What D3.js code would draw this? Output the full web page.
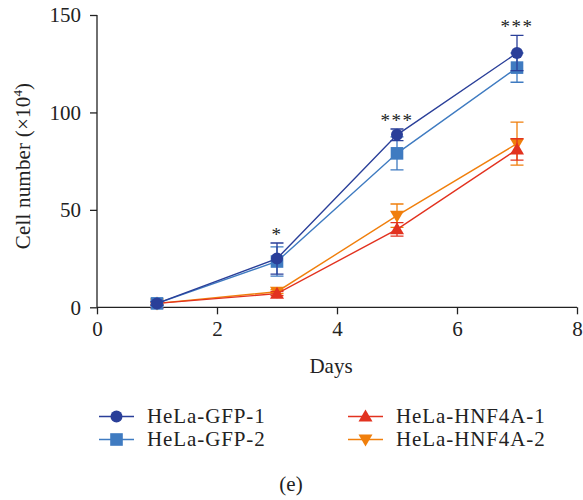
<!DOCTYPE html>
<html><head><meta charset="utf-8">
<script src="https://cdn.jsdelivr.net/npm/d3@7"></script>
<style>body{margin:0;background:#fff}svg text{font-family:"Liberation Serif","DejaVu Serif",serif;fill:#222}</style>
</head><body><svg id="c" width="583" height="500"></svg>
<script>
const days = [1, 3, 5, 7];
const seriesNames = ["HeLa-GFP-1", "HeLa-GFP-2", "HeLa-HNF4A-1", "HeLa-HNF4A-2"];
const gfp1 = [2, 25, 88.5, 130.5];
const gfp1Err = [1, 8, 3, 9];
const gfp2 = [2, 23.5, 79, 123];
const gfp2Err = [1, 7.5, 8.5, 7.5];
const hnf1 = [2, 7, 40, 81];
const hnf1Err = [0.5, 1, 3.5, 5.5];
const hnf2 = [2, 8, 47, 84];
const hnf2Err = [0.5, 1, 6, 11];
const xTicks = [0, 2, 4, 6, 8];
const yTicks = [0, 50, 100, 150];
const stars = [{day: 3, y: 33, t: "*"}, {day: 5, y: 91.5, t: "***"}, {day: 7, y: 139.5, t: "***"}];

const colors = ["#2a3f99", "#3f7bc1", "#e2321f", "#f07f0c"];
const symbols = ["circle", "square", "up", "down"];
const data = [gfp1, gfp2, hnf1, hnf2];
const errs = [gfp1Err, gfp2Err, hnf1Err, hnf2Err];
const FS = 21;

const svg = d3.select("#c");
const x = d3.scaleLinear().domain([0, 8]).range([97, 577]);
const y = d3.scaleLinear().domain([0, 150]).range([307.3, 15]);

const xa = svg.append("g").attr("transform", "translate(0,307.3)")
  .call(d3.axisBottom(x).tickValues(xTicks).tickSize(7).tickPadding(7));
const ya = svg.append("g").attr("transform", "translate(97,0)")
  .call(d3.axisLeft(y).tickValues(yTicks).tickSize(7).tickPadding(9));
[xa, ya].forEach(a => {
  a.select(".domain").attr("stroke", "#222").attr("stroke-width", 1.3);
  a.selectAll(".tick line").attr("stroke", "#222").attr("stroke-width", 1.3);
  a.selectAll(".tick text").attr("font-size", FS).attr("fill", "#222")
    .style("font-family", '"Liberation Serif",serif');
});
xa.select(".domain").attr("d", `M97,0H577`);
ya.select(".domain").attr("d", `M0,${y(0)}V${y(150)}`);

svg.append("text").attr("x", 331).attr("y", 373).attr("text-anchor", "middle").attr("font-size", FS).text("Days");
const yl = svg.append("text").attr("transform", "translate(30,166) rotate(-90)").attr("text-anchor", "middle")
  .attr("font-size", FS).attr("letter-spacing", 0.2);
yl.append("tspan").text("Cell number (×10");
yl.append("tspan").attr("font-size", 13).attr("dy", -8).text("4");
yl.append("tspan").attr("dy", 8).text(")");

function marker(g, sym, color, cx, cy) {
  if (sym === "circle") g.append("circle").attr("cx", cx).attr("cy", cy).attr("r", 6).attr("fill", color);
  else if (sym === "square") g.append("rect").attr("x", cx - 6.3).attr("y", cy - 6.3).attr("width", 12.6).attr("height", 12.6).attr("fill", color);
  else if (sym === "up") g.append("path").attr("d", `M${cx},${cy - 7}L${cx + 7},${cy + 5}L${cx - 7},${cy + 5}Z`).attr("fill", color);
  else g.append("path").attr("d", `M${cx},${cy + 7}L${cx + 7},${cy - 5}L${cx - 7},${cy - 5}Z`).attr("fill", color);
}

const line = d3.line().x(d => x(d[0])).y(d => y(d[1]));
const order = [3, 2, 1, 0];
order.forEach(i => {
  const g = svg.append("g");
  const pts = days.map((d, j) => [d, data[i][j]]);
  g.append("path").attr("d", line(pts)).attr("fill", "none").attr("stroke", colors[i]).attr("stroke-width", 1.4);
  days.forEach((d, j) => {
    const v = data[i][j], e = errs[i][j];
    const cx = x(d);
    g.append("path").attr("d", `M${cx},${y(v + e)}V${y(v - e)}M${cx - 6.5},${y(v + e)}H${cx + 6.5}M${cx - 6.5},${y(v - e)}H${cx + 6.5}`)
      .attr("stroke", colors[i]).attr("stroke-width", 1.3).attr("fill", "none");
  });
  days.forEach((d, j) => marker(g, symbols[i], colors[i], x(d), y(data[i][j])));
});

stars.forEach(s => {
  svg.append("text").attr("x", x(s.day)).attr("y", y(s.y) - 2).attr("text-anchor", "middle")
    .attr("font-size", 19).attr("letter-spacing", 1.5).attr("fill", "#555").text(s.t);
});

const legPos = [[99, 416.5], [99, 439.5], [348, 416.5], [348, 439.5]];
seriesNames.forEach((n, i) => {
  const [lx, ly] = legPos[i];
  const g = svg.append("g");
  g.append("line").attr("x1", lx).attr("x2", lx + 35).attr("y1", ly).attr("y2", ly).attr("stroke", colors[i]).attr("stroke-width", 1.4);
  marker(g, symbols[i], colors[i], lx + 17.5, ly);
  g.append("text").attr("x", lx + 48).attr("y", ly + 6.5).attr("font-size", FS).attr("letter-spacing", 0.9).text(n);
});

svg.append("text").attr("x", 291).attr("y", 491).attr("text-anchor", "middle").attr("font-size", FS).text("(e)");
</script></body></html>
